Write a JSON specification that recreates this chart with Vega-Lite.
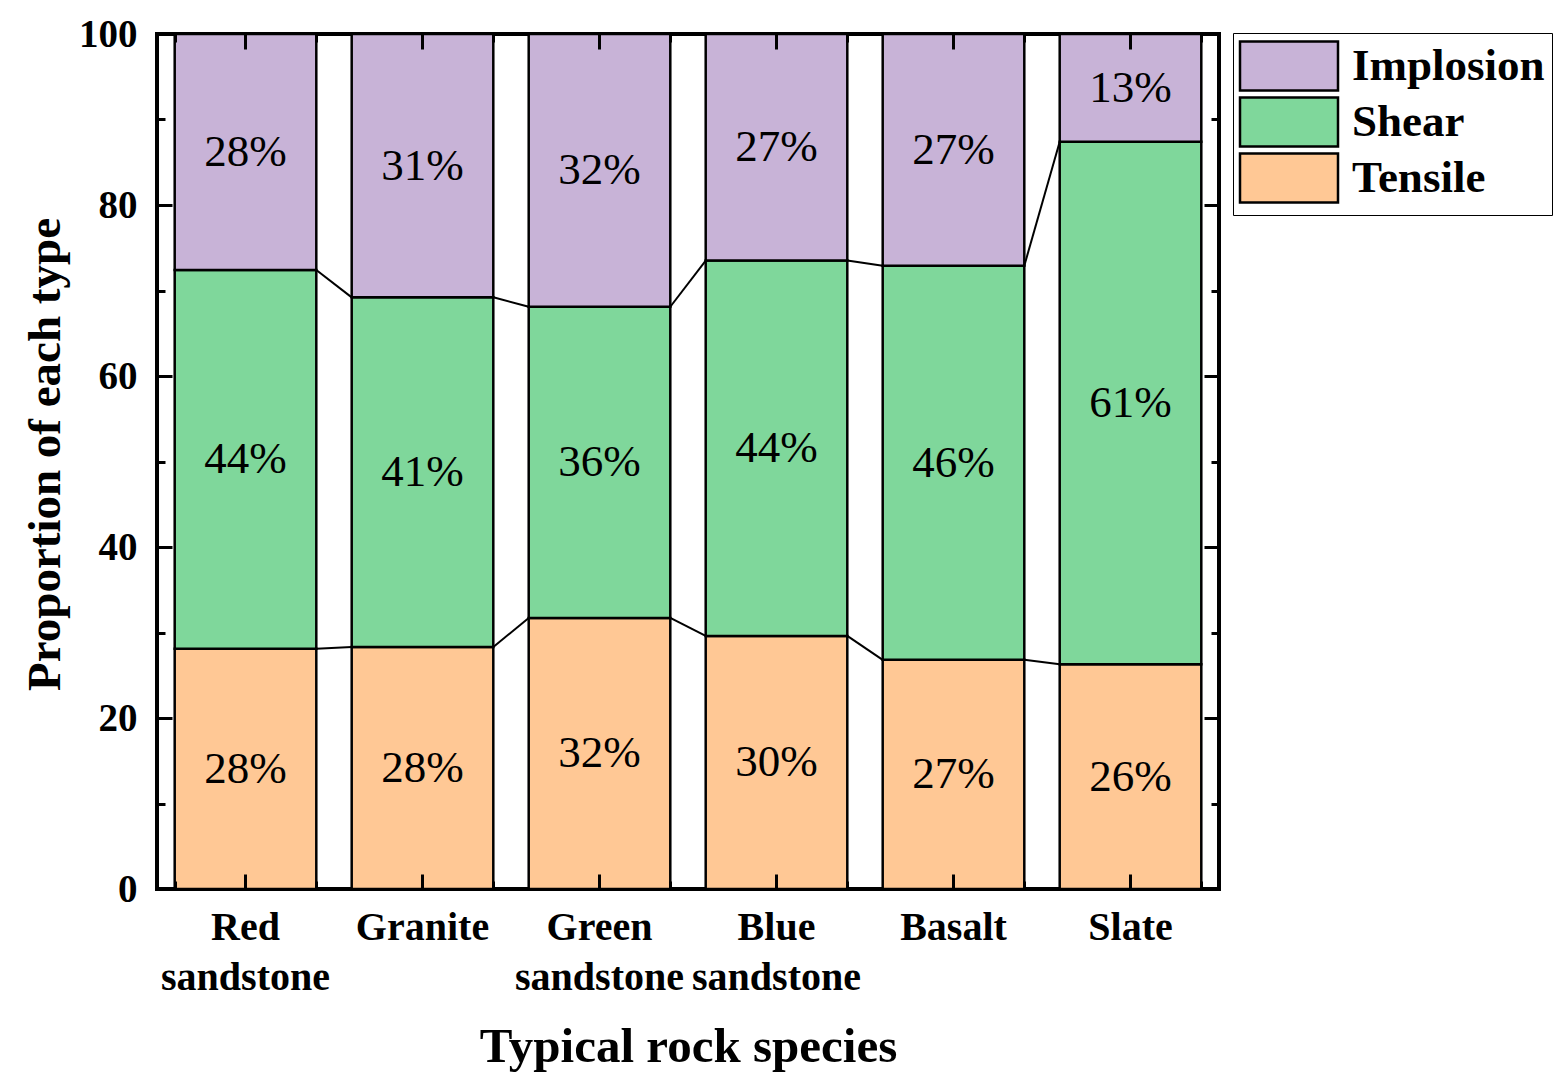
{
  "$schema": "https://vega.github.io/schema/vega-lite/v6.json",
  "width": 1062,
  "height": 855,
  "autosize": "none",
  "padding": {"left": 157, "top": 34, "right": 349, "bottom": 198},
  "background": "white",
  "config": {
    "view": {"stroke": "black", "strokeWidth": 4},
    "font": "Liberation Serif",
    "axis": {
      "domain": false,
      "grid": false,
      "ticks": true,
      "zindex": 1,
      "tickColor": "black",
      "tickWidth": 3,
      "tickOpacity": 1,
      "labelColor": "black",
      "titleColor": "black",
      "labelFont": "Liberation Serif",
      "titleFont": "Liberation Serif",
      "labelFontWeight": "bold",
      "titleFontWeight": "bold"
    }
  },
  "datasets": {
    "shares": [
      {"rock": "Red sandstone", "type": "Tensile", "value": 28.1},
      {"rock": "Red sandstone", "type": "Shear", "value": 44.3},
      {"rock": "Red sandstone", "type": "Implosion", "value": 27.6},
      {"rock": "Granite", "type": "Tensile", "value": 28.3},
      {"rock": "Granite", "type": "Shear", "value": 40.9},
      {"rock": "Granite", "type": "Implosion", "value": 30.8},
      {"rock": "Green sandstone", "type": "Tensile", "value": 31.7},
      {"rock": "Green sandstone", "type": "Shear", "value": 36.4},
      {"rock": "Green sandstone", "type": "Implosion", "value": 31.9},
      {"rock": "Blue sandstone", "type": "Tensile", "value": 29.6},
      {"rock": "Blue sandstone", "type": "Shear", "value": 43.9},
      {"rock": "Blue sandstone", "type": "Implosion", "value": 26.5},
      {"rock": "Basalt", "type": "Tensile", "value": 26.8},
      {"rock": "Basalt", "type": "Shear", "value": 46.1},
      {"rock": "Basalt", "type": "Implosion", "value": 27.1},
      {"rock": "Slate", "type": "Tensile", "value": 26.3},
      {"rock": "Slate", "type": "Shear", "value": 61.1},
      {"rock": "Slate", "type": "Implosion", "value": 12.6}
    ],
    "tensileLinks": [
      {"from": "Red sandstone", "to": "Granite", "y": 28.1, "y2": 28.3},
      {"from": "Granite", "to": "Green sandstone", "y": 28.3, "y2": 31.7},
      {"from": "Green sandstone", "to": "Blue sandstone", "y": 31.7, "y2": 29.6},
      {"from": "Blue sandstone", "to": "Basalt", "y": 29.6, "y2": 26.8},
      {"from": "Basalt", "to": "Slate", "y": 26.8, "y2": 26.3}
    ],
    "shearLinks": [
      {"from": "Red sandstone", "to": "Granite", "y": 72.4, "y2": 69.2},
      {"from": "Granite", "to": "Green sandstone", "y": 69.2, "y2": 68.1},
      {"from": "Green sandstone", "to": "Blue sandstone", "y": 68.1, "y2": 73.5},
      {"from": "Blue sandstone", "to": "Basalt", "y": 73.5, "y2": 72.9},
      {"from": "Basalt", "to": "Slate", "y": 72.9, "y2": 87.4}
    ]
  },
  "layer": [
    {
      "data": {"name": "shares"},
      "mark": {"type": "bar", "stroke": "black", "strokeWidth": 2.5},
      "encoding": {
        "x": {
          "field": "rock",
          "type": "nominal",
          "scale": {
            "domain": ["Red sandstone", "Granite", "Green sandstone", "Blue sandstone", "Basalt", "Slate"],
            "paddingInner": 0.2,
            "paddingOuter": 0.1
          },
          "axis": {
            "orient": "bottom",
            "title": "Typical rock species",
            "titleFontSize": 49,
            "titlePadding": 25,
            "labelFontSize": 40,
            "labelAngle": 0,
            "labelPadding": 33,
            "labelLineHeight": 50,
            "labelExpr": "split(datum.label, ' ')",
            "ticks": true,
            "zindex": 1,
            "tickSize": -15,
            "tickBand": "center"
          }
        },
        "y": {
          "field": "value",
          "type": "quantitative",
          "stack": "zero",
          "scale": {"domain": [0, 100], "nice": false},
          "axis": {
            "orient": "left",
            "title": "Proportion of each type",
            "titleFontSize": 47,
            "titlePadding": 9,
            "titleY": 420,
            "labelFontSize": 39,
            "labelPadding": 35,
            "values": [0, 20, 40, 60, 80, 100],
            "tickSize": -15
          }
        },
        "color": {
          "field": "type",
          "type": "nominal",
          "scale": {
            "domain": ["Implosion", "Shear", "Tensile"],
            "range": ["#C8B3D7", "#7FD79B", "#FFC895"]
          },
          "legend": {
            "orient": "none",
            "legendX": 1076,
            "legendY": -1,
            "title": null,
            "strokeColor": "black",
            "padding": 7,
            "symbolType": "M-2,-1H2V1H-2Z",
            "symbolSize": 2401,
            "symbolOffset": 23,
            "symbolStrokeColor": "black",
            "symbolStrokeWidth": 2.5,
            "symbolOpacity": 1,
            "labelFont": "Liberation Serif",
            "labelFontWeight": "bold",
            "labelFontSize": 45,
            "labelColor": "black",
            "labelOffset": 37,
            "labelLimit": 400,
            "rowPadding": -4
          }
        },
        "order": {"field": "type", "sort": "descending"}
      }
    },
    {
      "data": {"name": "shares"},
      "transform": [
        {"calculate": "format(datum.value, '.0f') + '%'", "as": "label"}
      ],
      "mark": {"type": "text", "font": "Liberation Serif", "fontSize": 45, "color": "black", "baseline": "middle"},
      "encoding": {
        "x": {
          "field": "rock",
          "type": "nominal",
          "axis": {
            "orient": "bottom",
            "title": null,
            "labels": false,
            "ticks": true,
            "zindex": 1,
            "tickSize": -8,
            "tickBand": "extent"
          }
        },
        "y": {
          "field": "value",
          "type": "quantitative",
          "stack": "zero",
          "bandPosition": 0.5,
          "axis": {
            "orient": "left",
            "title": null,
            "labels": false,
            "values": [10, 30, 50, 70, 90],
            "tickSize": -8
          }
        },
        "detail": {"field": "type"},
        "order": {"field": "type", "sort": "descending"},
        "text": {"field": "label"}
      }
    },
    {
      "data": {"name": "tensileLinks"},
      "mark": {"type": "rule", "color": "black", "strokeWidth": 2},
      "encoding": {
        "x": {
          "field": "from",
          "type": "nominal",
          "bandPosition": 1,
          "axis": {
            "orient": "top",
            "title": null,
            "labels": false,
            "ticks": true,
            "zindex": 1,
            "tickSize": -15,
            "tickBand": "center"
          }
        },
        "x2": {"field": "to", "bandPosition": 0},
        "y": {
          "field": "y",
          "type": "quantitative",
          "axis": {
            "orient": "right",
            "title": null,
            "labels": false,
            "values": [0, 20, 40, 60, 80, 100],
            "tickSize": -15
          }
        },
        "y2": {"field": "y2"}
      }
    },
    {
      "data": {"name": "shearLinks"},
      "mark": {"type": "rule", "color": "black", "strokeWidth": 2},
      "encoding": {
        "x": {
          "field": "from",
          "type": "nominal",
          "bandPosition": 1,
          "axis": {
            "orient": "top",
            "title": null,
            "labels": false,
            "ticks": true,
            "zindex": 1,
            "tickSize": -8,
            "tickBand": "extent"
          }
        },
        "x2": {"field": "to", "bandPosition": 0},
        "y": {
          "field": "y",
          "type": "quantitative",
          "axis": {
            "orient": "right",
            "title": null,
            "labels": false,
            "values": [10, 30, 50, 70, 90],
            "tickSize": -8
          }
        },
        "y2": {"field": "y2"}
      }
    }
  ],
  "resolve": {"axis": {"x": "independent", "y": "independent"}}
}
